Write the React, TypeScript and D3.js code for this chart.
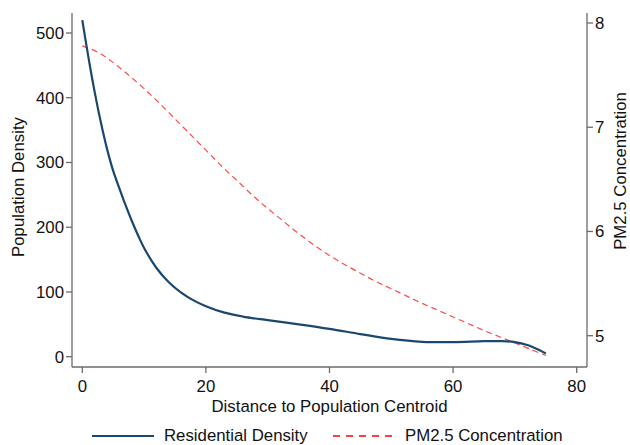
import React from "react";
import * as d3 from "d3";

const densityX = [0, 1, 2, 3, 4, 5, 6, 7, 8, 9, 10, 12, 14, 16, 18, 20, 23, 26, 30, 35, 40, 45, 50, 55, 60, 65, 68, 70, 72, 74, 75];
const densityY = [520, 462, 409, 362, 321, 287, 260, 234, 210, 188, 168, 137, 115, 99, 87, 78, 68, 62, 56.5, 50, 43, 35, 27.5, 23, 22.5, 24, 24, 22.5, 18, 10, 5];

const pmX = [0, 2.5, 5, 7.5, 10, 12.5, 15, 17.5, 20, 22.5, 25, 27.5, 30, 32.5, 35, 37.5, 40, 42.5, 45, 47.5, 50, 52.5, 55, 57.5, 60, 62.5, 65, 67.5, 70, 72.5, 75];
const pmY = [7.78, 7.72, 7.62, 7.5, 7.37, 7.23, 7.08, 6.93, 6.78, 6.63, 6.49, 6.35, 6.22, 6.1, 5.98, 5.87, 5.77, 5.68, 5.6, 5.52, 5.45, 5.38, 5.31, 5.245, 5.18, 5.115, 5.05, 4.99, 4.93, 4.87, 4.81];

const xTicks = [0, 20, 40, 60, 80];
const leftTicks = [0, 100, 200, 300, 400, 500];
const rightTicks = [5, 6, 7, 8];

const xTitle = "Distance to Population Centroid";
const leftTitle = "Population Density";
const rightTitle = "PM2.5 Concentration";
const legendLabels = ["Residential Density", "PM2.5 Concentration"];

const W = 630;
const H = 445;
const plotLeft = 72;
const plotRight = 587;
const plotTop = 13;
const plotBottom = 367;

const FONT = "'Liberation Sans', Arial, sans-serif";
const FS = 16.8;
const AXIS = "#6b6b6b";
const NAVY = "#1a476f";
const RED = "#ff2a2a";

export default function App() {
  const x = d3.scaleLinear().domain([0, 80]).range([82.3, 576.7]);
  const yL = d3.scaleLinear().domain([0, 500]).range([356.7, 33]);
  const yR = d3.scaleLinear().domain([5, 8]).range([335.7, 23]);

  const densityLine = d3
    .line<number>()
    .x((_, i) => x(densityX[i]))
    .y((d) => yL(d))
    .curve(d3.curveCatmullRom.alpha(0.5))(densityY) as string;

  const pmLine = d3
    .line<number>()
    .x((_, i) => x(pmX[i]))
    .y((d) => yR(d))
    .curve(d3.curveCatmullRom.alpha(0.5))(pmY) as string;

  const midX = (plotLeft + plotRight) / 2;

  return (
    <svg
      width={W}
      height={H}
      style={{ position: "absolute", left: 0, top: 0, background: "#fff" }}
      fontFamily={FONT}
    >
      <rect x={0} y={0} width={W} height={H} fill="#fff" />
      {/* axes */}
      <line x1={plotLeft} x2={plotLeft} y1={plotTop} y2={plotBottom} stroke={AXIS} strokeWidth={1.3} />
      <line x1={plotRight} x2={plotRight} y1={plotTop} y2={plotBottom} stroke={AXIS} strokeWidth={1.3} />
      <line x1={plotLeft} x2={plotRight} y1={plotBottom} y2={plotBottom} stroke={AXIS} strokeWidth={1.3} />

      {xTicks.map((t) => (
        <g key={"x" + t}>
          <line x1={x(t)} x2={x(t)} y1={plotBottom} y2={plotBottom + 6} stroke={AXIS} strokeWidth={1.3} />
          <text x={x(t)} y={392} textAnchor="middle" fontSize={FS} fill="#111">
            {t}
          </text>
        </g>
      ))}
      {leftTicks.map((t) => (
        <g key={"l" + t}>
          <line x1={plotLeft - 6} x2={plotLeft} y1={yL(t)} y2={yL(t)} stroke={AXIS} strokeWidth={1.3} />
          <text x={plotLeft - 8} y={yL(t) + 6} textAnchor="end" fontSize={FS} fill="#111">
            {t}
          </text>
        </g>
      ))}
      {rightTicks.map((t) => (
        <g key={"r" + t}>
          <line x1={plotRight} x2={plotRight + 6} y1={yR(t)} y2={yR(t)} stroke={AXIS} strokeWidth={1.3} />
          <text x={plotRight + 8} y={yR(t) + 6} textAnchor="start" fontSize={FS} fill="#111">
            {t}
          </text>
        </g>
      ))}

      {/* titles */}
      <text x={midX} y={412} textAnchor="middle" fontSize={FS} fill="#111">
        {xTitle}
      </text>
      <text
        transform={`translate(24, ${187}) rotate(-90)`}
        textAnchor="middle"
        fontSize={FS}
        fill="#111"
      >
        {leftTitle}
      </text>
      <text
        transform={`translate(626, ${171}) rotate(-90)`}
        textAnchor="middle"
        fontSize={FS}
        fill="#111"
      >
        {rightTitle}
      </text>

      {/* lines */}
      <path d={pmLine} fill="none" stroke={RED} strokeWidth={1.2} strokeDasharray="6,4" opacity={0.85} />
      <path d={densityLine} fill="none" stroke={NAVY} strokeWidth={2.2} />

      {/* legend */}
      <line x1={92} x2={154} y1={436} y2={436} stroke={NAVY} strokeWidth={2} />
      <text x={164} y={441} fontSize={FS} fill="#111">
        {legendLabels[0]}
      </text>
      <line x1={333} x2={396} y1={436} y2={436} stroke="#ff0000" strokeWidth={1.5} strokeDasharray="7,6" />
      <text x={405} y={441} fontSize={FS} fill="#111">
        {legendLabels[1]}
      </text>
    </svg>
  );
}
